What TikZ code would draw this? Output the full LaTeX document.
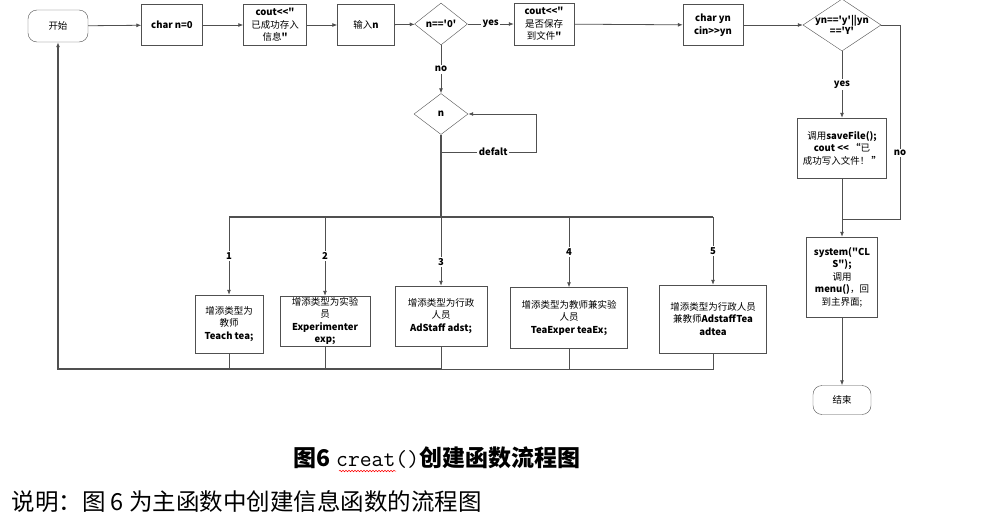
\documentclass[tikz,border=0pt]{standalone}
\usepackage{fontspec}
\newfontfamily\cjk{Noto Sans CJK SC}
\usetikzlibrary{positioning}
\usetikzlibrary{arrows.meta}
\usetikzlibrary{shapes.geometric}
\usetikzlibrary{decorations.pathmorphing}
\definecolor{linegray}{HTML}{505050}
\tikzset{box/.style = {draw=linegray, rectangle, align=center, inner sep=1pt,
    font=\cjk\fontsize{9.5}{12.5}\selectfont}}
\tikzset{term/.style = {box, rounded corners=9pt}}
\tikzset{decide/.style = {draw=linegray, diamond, inner sep=0}}
\tikzset{dtext/.style = {align=center, inner sep=0, font=\cjk\fontsize{9.5}{11}\selectfont}}
\tikzset{lbl/.style = {fill=white, inner sep=1.5pt, font=\cjk\bfseries\fontsize{9.5}{11}\selectfont}}
\tikzset{link/.style = {draw=linegray, line width=0.8pt}}
\tikzset{bus/.style = {link, line width=1.4pt}}
\newcommand{\lt}[1]{\textbf{#1}}

\begin{document}
\begin{tikzpicture}[x=1pt, y=-1pt, >={Latex[length=5pt,width=4pt]}]
      \useasboundingbox (0,0) rectangle (986,522);

      \node[term, minimum width=60pt, minimum height=32pt] (start) at (58,26) {开始};
      \node[box, minimum width=61pt, minimum height=41pt] (init) at (172,25) {\lt{char n=0}};
      \node[box, minimum width=63pt, minimum height=41pt] (saved) at (275,25) {\lt{cout<<"}\\已成功存入\\信息\lt{"}};
      \node[box, minimum width=57pt, minimum height=41pt] (input) at (366,25) {输入\lt{n}};
      \node[decide, minimum width=53pt, minimum height=42pt] (qzero) at (441,24) {};
      \node[dtext] (qzerotxt) at (qzero) {\lt{n=='0'}};
      \node[box, minimum width=60pt, minimum height=42pt] (askfile) at (544,24) {\lt{cout<<"}\\是否保存\\到文件\lt{"}};
      \node[box, minimum width=60pt, minimum height=41pt] (readyn) at (713,25) {\lt{char yn}\\\lt{cin>>yn}};
      \node[decide, minimum width=78pt, minimum height=52pt] (qyn) at (842,25) {};
      \node[dtext] (qyntxt) at (qyn) {\lt{yn=='y'||yn}\\\lt{=='Y'}};
      \node[box, minimum width=89pt, minimum height=60pt] (save) at (842,148) {调用\lt{saveFile();}\\\lt{cout << “}已\\成功写入文件！\lt{ ”}};
      \node[box, minimum width=71pt, minimum height=80pt] (cls) at (842,277) {\lt{system("CL}\\\lt{S");}\\调用\\\lt{menu()}，回\\到主界面;};
      \node[term, minimum width=58pt, minimum height=29pt] (stop) at (842,400) {结束};

      \node[decide, minimum width=54pt, minimum height=41pt] (qn) at (441,114) {};
      \node[dtext] (qntxt) at (qn) {\lt{n}};

      \node[box, minimum width=68pt, minimum height=58pt] (t1) at (229,324) {增添类型为\\教师\\\lt{Teach tea;}};
      \node[box, minimum width=90pt, minimum height=50pt] (t2) at (325,321) {增添类型为实验\\员\\\lt{Experimenter}\\\lt{exp;}};
      \node[box, minimum width=92pt, minimum height=60pt] (t3) at (441,316) {增添类型为行政\\人员\\\lt{AdStaff adst;}};
      \node[box, minimum width=117pt, minimum height=61pt] (t4) at (569,318) {增添类型为教师兼实验\\人员\\\lt{TeaExper teaEx;}};
      \node[box, minimum width=107pt, minimum height=68pt] (t5) at (713,319) {增添类型为行政人员\\兼教师\lt{AdstaffTea}\\\lt{adtea}};

      \coordinate (dflt) at (536,152);
      \coordinate (busl) at (229,217);
      \coordinate (ret) at (58,369);
      \coordinate (nox) at (900,219);

      \draw[link,->] (start) -- (init);
      \draw[link,->] (init) -- (saved);
      \draw[link,->] (saved) -- (input);
      \draw[link,->] (input) -- (qzero);
      \draw[link,->] (qzero) -- node[lbl]{yes} (askfile);
      \draw[link,->] (askfile) -- (readyn);
      \draw[link,->] (readyn) -- (qyn);
      \draw[link,->] (qzero) -- node[lbl]{no} (qn);

      \draw[link,->] (qn.south |- dflt) -- node[lbl, pos=.55]{defalt} (dflt) |- (qn.east);
      \draw[bus] (qn.south) -- (qn.south |- busl);
      \draw[link, line width=1.1pt] (busl) -- (busl -| t5.north);

      \draw[link,->] (busl -| t1.north) -- node[lbl]{1} (t1.north);
      \draw[link,->] (busl -| t2.north) -- node[lbl]{2} (t2.north);
      \draw[link,->] (busl -| t3.north) -- node[lbl, pos=.65]{3} (t3.north);
      \draw[link,->] (busl -| t4.north) -- node[lbl]{4} (t4.north);
      \draw[link,->] (busl -| t5.north) -- node[lbl]{5} (t5.north);

      \draw[link] (t1.south) -- (t1.south |- ret);
      \draw[link] (t2.south) -- (t2.south |- ret);
      \draw[link] (t3.south) -- (t3.south |- ret);
      \draw[link] (t4.south) -- (t4.south |- ret);
      \draw[link] (t5.south) -- (t5.south |- ret) -- (t3.south |- ret);
      \draw[bus,->] (t3.south |- ret) -- (ret) -- (start.south);

      \draw[link,->] (qyn) -- node[lbl]{yes} (save);
      \draw[link,->] (save) -- (cls);
      \draw[link] (qyn.east) -- (qyn.east -| nox) -- node[lbl, pos=.66]{no} (nox) -- (save.south |- nox);
      \draw[link,->] (cls) -- (stop);

      \node[font=\cjk\bfseries\fontsize{23}{26}\selectfont] (caption) at (437,458) {图6 {\ttfamily\mdseries creat()}创建函数流程图};
      \node[anchor=west, font=\cjk\fontsize{23.5}{26}\selectfont] (note) at (8,502) {说明：图 6 为主函数中创建信息函数的流程图};
      \draw[red, line width=0.5pt, decorate, decoration={snake, amplitude=0.8pt, segment length=3pt}] (339,471) -- (396,471);
\end{tikzpicture}
\end{document}
